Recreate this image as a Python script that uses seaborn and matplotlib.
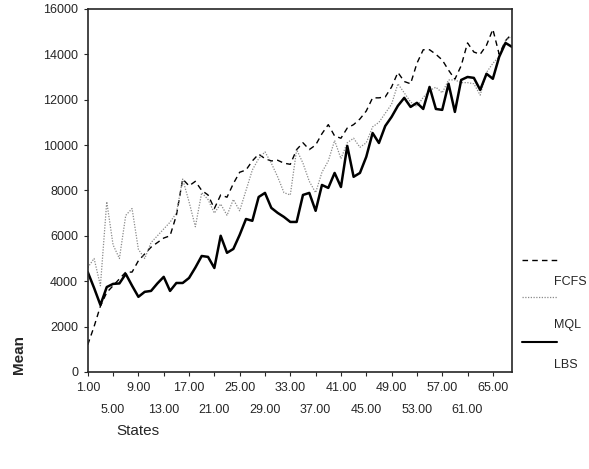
import seaborn as sns
import matplotlib.pyplot as plt
import pandas as pd
from matplotlib.lines import Line2D

states = list(range(1, 69))
fcfs = [1200, 2000, 2900, 3500, 3800, 4100, 4400, 4400, 4900, 5200,
        5500, 5700, 5900, 6000, 6900, 8500, 8200, 8400, 8000, 7800,
        7200, 7800, 7700, 8300, 8800, 8900, 9300, 9600, 9400, 9300,
        9330, 9200, 9150, 9800, 10100, 9800, 10000, 10500, 10900, 10400,
        10300, 10750, 10900, 11150, 11500, 12080, 12080, 12120, 12560, 13200,
        12800, 12700, 13600, 14200, 14200, 14000, 13750, 13300, 12900, 13500,
        14500, 14100, 14000, 14400, 15100, 14000, 14600, 14900]
mql = [4600, 5000, 3800, 7500, 5600, 5000, 6900, 7200, 5400, 5000,
       5700, 6000, 6300, 6600, 7000, 8500, 7500, 6400, 7900, 7600,
       7000, 7400, 6900, 7600, 7100, 8000, 8900, 9400, 9700, 9200,
       8600, 7900, 7800, 9800, 9200, 8400, 7900, 8800, 9300, 10200,
       9400, 10100, 10300, 9900, 10100, 10800, 11000, 11400, 11800, 12700,
       12300, 11900, 11700, 12100, 12400, 12550, 12300, 12870, 12870, 12750,
       12750, 12700, 12200, 13200, 13600, 13900, 14600, 14800]
lbs = [4400, 3700, 2950, 3740, 3880, 3900, 4320, 3800, 3310, 3530,
       3570, 3900, 4190, 3570, 3920, 3920, 4140, 4600, 5110, 5070,
       4580, 6000, 5250, 5420, 6040, 6740, 6660, 7710, 7890, 7230,
       7010, 6830, 6610, 6610, 7800, 7890, 7100, 8240, 8110, 8770,
       8150, 9960, 8600, 8770, 9480, 10530, 10090, 10840, 11240, 11730,
       12080, 11680, 11860, 11590, 12560, 11590, 11550, 12700, 11460, 12870,
       13000, 12960, 12430, 13140, 12920, 13890, 14500, 14330]

x_ticks_top = list(range(1, 66, 8))
x_ticks_low = list(range(5, 62, 8))
y_ticks = list(range(0, 16001, 2000))

sns.set_style("ticks")
plt.rcParams['font.family'] = ['Liberation Sans', 'DejaVu Sans']

df = pd.DataFrame({"States": states, "FCFS": fcfs, "MQL": mql, "LBS": lbs})

fig = plt.figure(figsize=(5.89, 4.69), dpi=100)
ax = fig.add_axes([0.149, 0.207, 0.72, 0.774])

sns.lineplot(data=df, x="States", y="FCFS", ax=ax, color="black",
             linewidth=1.0, linestyle=(0, (4, 3)))
sns.lineplot(data=df, x="States", y="MQL", ax=ax, color="#8a8a8a",
             linewidth=0.9, linestyle=(0, (1, 1.2)))
sns.lineplot(data=df, x="States", y="LBS", ax=ax, color="black",
             linewidth=1.8)

ax.set_xlim(1, 68)
ax.set_ylim(0, 16000)
ax.set_yticks(y_ticks)
ax.set_yticklabels([str(v) for v in y_ticks], fontsize=9)
ax.set_xticks(x_ticks_top)
ax.set_xticklabels(["%.2f" % v for v in x_ticks_top], fontsize=9)
ax.set_xticks(x_ticks_low, minor=True)
ax.set_xticklabels(["%.2f" % v for v in x_ticks_low], fontsize=9, minor=True)
ax.tick_params(direction="out", length=3, width=0.8, pad=4)
ax.tick_params(axis="x", which="minor", direction="out", length=3,
               width=0.8, pad=20)
for sp in ax.spines.values():
    sp.set_linewidth(1.2)
    sp.set_visible(True)
ax.set_xlabel("")
ax.set_ylabel("")

fig.text(0.032, 0.245, "Mean", rotation=90, fontsize=11, fontweight="bold",
         ha="center", va="center")
fig.text(0.198, 0.08, "States", fontsize=11, ha="left", va="center")

# legend: line above each label
fig.add_artist(Line2D([0.887, 0.945], [0.446, 0.446], color="black",
                      linewidth=1.0, linestyle=(0, (4, 3))))
fig.text(0.94, 0.398, "FCFS", fontsize=9, ha="left", va="center")
fig.add_artist(Line2D([0.887, 0.945], [0.367, 0.367], color="#8a8a8a",
                      linewidth=0.9, linestyle=(0, (1, 1.2))))
fig.text(0.94, 0.306, "MQL", fontsize=9, ha="left", va="center")
fig.add_artist(Line2D([0.887, 0.945], [0.27, 0.27], color="black",
                      linewidth=1.5))
fig.text(0.94, 0.222, "LBS", fontsize=9, ha="left", va="center")

fig.savefig("out.png", dpi=100)
plt.close()
